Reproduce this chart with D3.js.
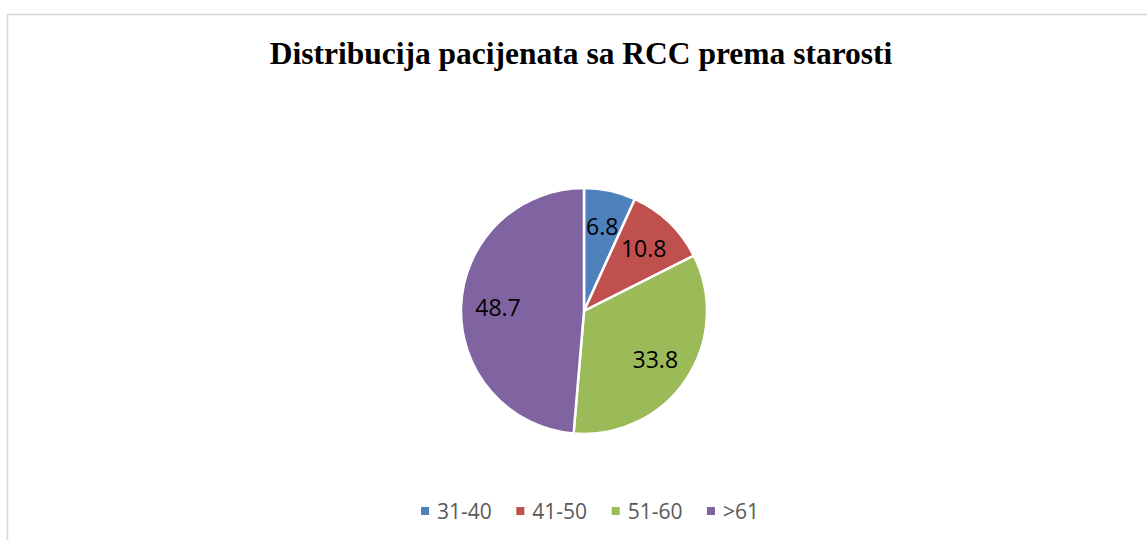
<!DOCTYPE html>
<html>
<head>
<meta charset="utf-8">
<script src="https://cdn.jsdelivr.net/npm/d3@7"></script>
<style>
  body { margin: 0; background: #fff; }
  svg { display: block; }
</style>
</head>
<body>
<div id="chart"></div>
<script>
// data
var categories = ["31-40", "41-50", "51-60", ">61"];
var values = [6.8, 10.8, 33.8, 48.7];
var colors = ["#4f81bd", "#c0504d", "#9bbb59", "#8064a2"];

var width = 1147, height = 540;
var cx = 584, cy = 311, radius = 123;

var svg = d3.select("#chart").append("svg")
    .attr("width", width)
    .attr("height", height);

// chart area border (cut off on right and bottom)
svg.append("rect")
    .attr("x", 7.5)
    .attr("y", 14.5)
    .attr("width", 1300)
    .attr("height", 700)
    .style("fill", "none")
    .style("stroke", "#d9d9d9")
    .style("stroke-width", 1.6);

// title
svg.append("text")
    .attr("x", 581)
    .attr("y", 64)
    .attr("text-anchor", "middle")
    .style("font-family", "'Liberation Serif', 'Times New Roman', serif")
    .style("font-weight", "bold")
    .style("font-size", "31.5px")
    .style("fill", "#000")
    .text("Distribucija pacijenata sa RCC prema starosti");

var data = categories.map(function (c, i) {
    return {label: c, value: values[i], color: colors[i]};
});

var pie = d3.pie()
    .sort(null)
    .value(function (d) { return d.value; });

var arc = d3.arc()
    .innerRadius(0)
    .outerRadius(radius);

var labelArc = d3.arc()
    .innerRadius(radius * 0.7)
    .outerRadius(radius * 0.7);

var g = svg.append("g")
    .attr("transform", "translate(" + cx + "," + cy + ")");

var arcs = pie(data);

g.selectAll("path")
    .data(arcs)
    .enter()
    .append("path")
    .attr("d", arc)
    .style("fill", function (d) { return d.data.color; })
    .style("stroke", "#fff")
    .style("stroke-width", 2.5);

g.selectAll("text.lbl")
    .data(arcs)
    .enter()
    .append("text")
    .attr("class", "lbl")
    .attr("transform", function (d) {
        var c = labelArc.centroid(d);
        return "translate(" + c[0] + "," + c[1] + ")";
    })
    .attr("text-anchor", "middle")
    .attr("dy", "0.36em")
    .style("font-family", "'Open Sans', 'Noto Sans', sans-serif")
    .style("font-size", "23px")
    .style("fill", "#000")
    .text(function (d) { return d.data.value; });

// legend
var legendX = d3.scalePoint()
    .domain(categories)
    .range([421, 707]);

var legend = svg.selectAll("g.legend")
    .data(data)
    .enter()
    .append("g")
    .attr("class", "legend")
    .attr("transform", function (d) {
        return "translate(" + legendX(d.label) + ",511)";
    });

legend.append("rect")
    .attr("x", 0)
    .attr("y", -4)
    .attr("width", 8)
    .attr("height", 8)
    .style("fill", function (d) { return d.color; });

legend.append("text")
    .attr("x", 16)
    .attr("dy", "0.36em")
    .style("font-family", "'Open Sans', 'Noto Sans', sans-serif")
    .style("font-size", "21px")
    .style("fill", "#595959")
    .text(function (d) { return d.label; });
</script>
</body>
</html>
